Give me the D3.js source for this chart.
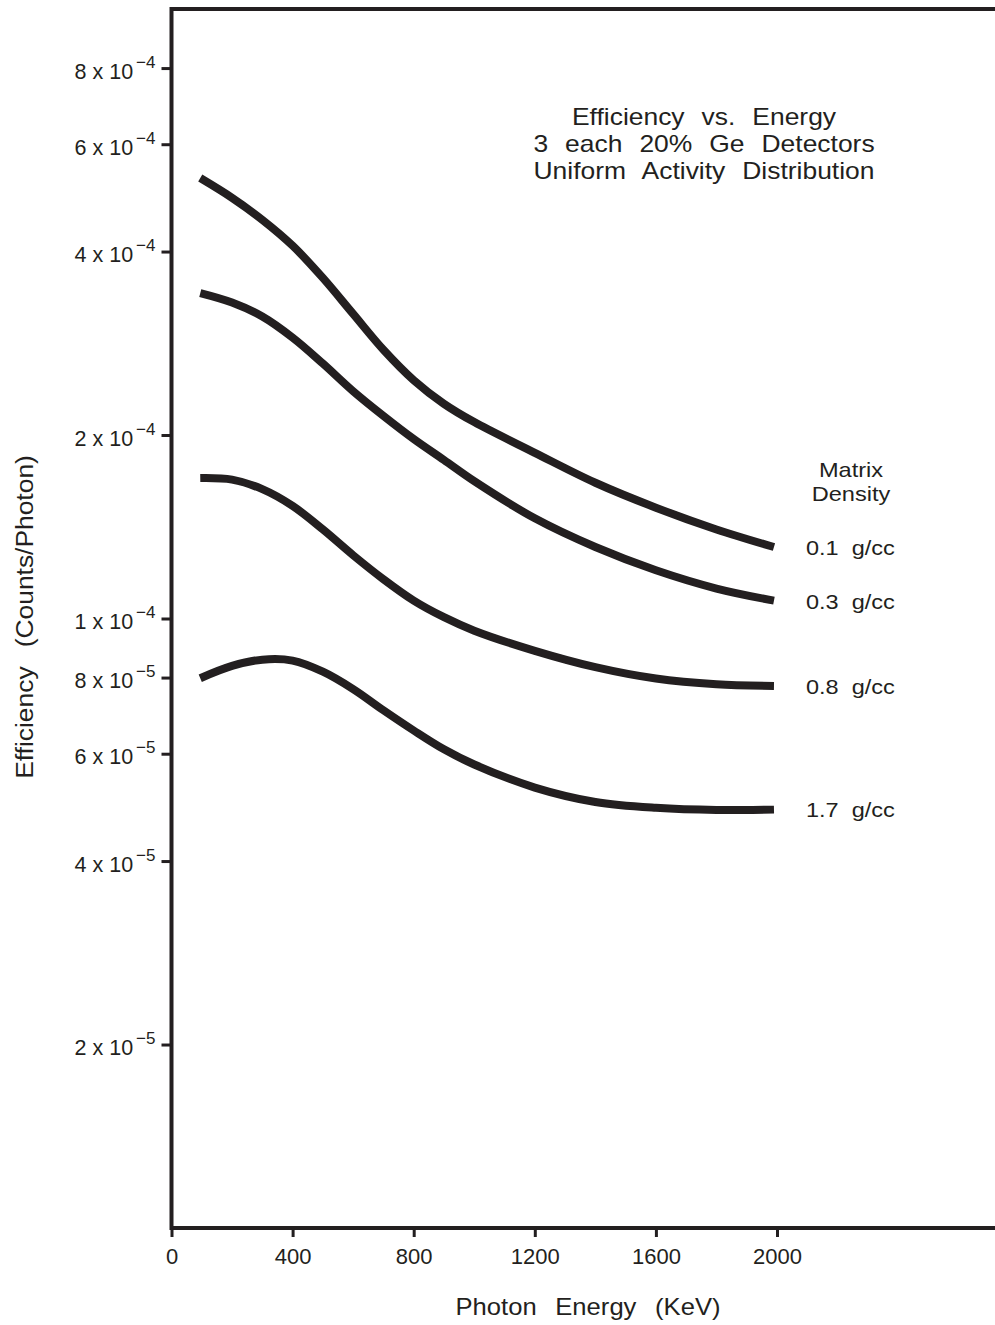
<!DOCTYPE html>
<html>
<head>
<meta charset="utf-8">
<script src="https://cdn.jsdelivr.net/npm/d3@7"></script>
<style>
  html, body { margin: 0; padding: 0; background: #fff; }
  svg { display: block; }
  text { font-family: "Liberation Sans", Arial, Helvetica, sans-serif; fill: #231f20; white-space: pre; }
</style>
</head>
<body>
<svg id="chart" width="995" height="1325"></svg>
<script>
// photon energy (keV) where the curves were read
const energies = [95, 200, 300, 400, 500, 600, 700, 800, 900, 1000, 1200, 1400, 1600, 1800, 1990];

// efficiency (counts/photon), one array per matrix density
const eff01 = [5.28e-4, 4.90e-4, 4.51e-4, 4.09e-4, 3.62e-4, 3.16e-4, 2.76e-4, 2.46e-4, 2.25e-4, 2.10e-4, 1.87e-4, 1.67e-4, 1.52e-4, 1.40e-4, 1.31e-4];
const eff03 = [3.42e-4, 3.30e-4, 3.13e-4, 2.89e-4, 2.62e-4, 2.36e-4, 2.15e-4, 1.97e-4, 1.82e-4, 1.68e-4, 1.46e-4, 1.31e-4, 1.20e-4, 1.12e-4, 1.07e-4];
const eff08 = [1.70e-4, 1.69e-4, 1.63e-4, 1.53e-4, 1.40e-4, 1.27e-4, 1.16e-4, 1.07e-4, 1.005e-4, 9.55e-5, 8.85e-5, 8.32e-5, 7.97e-5, 7.80e-5, 7.75e-5];
const eff17 = [7.98e-5, 8.36e-5, 8.56e-5, 8.53e-5, 8.18e-5, 7.66e-5, 7.07e-5, 6.55e-5, 6.10e-5, 5.76e-5, 5.28e-5, 5.00e-5, 4.89e-5, 4.85e-5, 4.86e-5];

const densityLabels = ['0.1  g/cc', '0.3  g/cc', '0.8  g/cc', '1.7  g/cc'];
const legendTitle = ['Matrix', 'Density'];

const xTicks = [0, 400, 800, 1200, 1600, 2000];
const yTicks = [2e-5, 4e-5, 6e-5, 8e-5, 1e-4, 2e-4, 4e-4, 6e-4, 8e-4];

const titleLines = ['Efficiency  vs.  Energy', '3  each  20%  Ge  Detectors', 'Uniform  Activity  Distribution'];

const ink = '#231f20';
const width = 995;

const svg = d3.select('#chart');

const x = d3.scaleLinear().domain([0, 2000]).range([171.5, 777]);
const y = d3.scaleLog().domain([1e-5, 1e-3]).range([1228, 9]);

const plotLeft = x(0), plotTop = y(1e-3), plotBottom = y(1e-5);

// the lettering in the original is a little wider than Arial, so stretch it
function wideText(parent, tx, ty, size, sx, anchor, str, spacing) {
  return parent.append('text')
    .attr('transform', `translate(${tx},${ty}) scale(${sx},1)`)
    .attr('text-anchor', anchor)
    .attr('font-size', size)
    .attr('word-spacing', spacing || 0)
    .text(str);
}

// frame: left axis, top border, bottom axis
svg.append('path')
  .attr('d', `M${width},${plotTop}H${plotLeft}V${plotBottom}H${width}`)
  .attr('fill', 'none')
  .attr('stroke', ink)
  .attr('stroke-width', 4);

// x axis ticks
const xAxis = svg.append('g')
  .attr('transform', 'translate(0,' + plotBottom + ')')
  .call(d3.axisBottom(x).tickValues(xTicks).tickSize(9).tickPadding(11).tickFormat(d3.format('d')));
xAxis.select('.domain').remove();
xAxis.selectAll('line').attr('stroke', ink).attr('stroke-width', 3);
xAxis.selectAll('text')
  .attr('font-size', 22)
  .attr('font-family', '"Liberation Sans", Arial, sans-serif')
  .attr('fill', ink);

// y axis ticks, labels drawn with superscript exponents
const yAxis = svg.append('g')
  .attr('transform', 'translate(' + plotLeft + ',0)')
  .call(d3.axisLeft(y).tickValues(yTicks).tickSize(10).tickFormat(''));
yAxis.select('.domain').remove();
yAxis.selectAll('line').attr('stroke', ink).attr('stroke-width', 3);

yAxis.selectAll('.tick').each(function(d) {
  const exp = Math.floor(Math.log10(d) + 1e-9);
  const mant = Math.round(d / Math.pow(10, exp));
  const t = d3.select(this).append('text')
    .attr('x', -16)
    .attr('y', 0)
    .attr('text-anchor', 'end')
    .attr('font-size', 21.5)
    .attr('font-family', '"Liberation Sans", Arial, sans-serif')
    .attr('fill', ink);
  t.append('tspan').attr('dy', 10).text(mant + ' x 10');
  t.append('tspan').attr('dy', -11).attr('dx', 3).attr('font-size', 17).text('\u2212' + Math.abs(exp));
});

// curves
const series = [eff01, eff03, eff08, eff17];
const line = d3.line()
  .x((d, i) => x(energies[i]))
  .y(d => y(d))
  .curve(d3.curveCatmullRom.alpha(0.5));

svg.append('g').selectAll('path')
  .data(series).enter().append('path')
  .attr('d', d => line(d))
  .attr('fill', 'none')
  .attr('stroke', ink)
  .attr('stroke-width', 8);

// density labels at the curve ends
const labels = svg.append('g');
series.forEach((s, i) => {
  wideText(labels, 806, y(s[s.length - 1]) + 8, 21, 1.12, 'start', densityLabels[i]);
});
legendTitle.forEach((s, i) => {
  wideText(labels, 851, 477 + i * 23.5, 20.5, 1.15, 'middle', s);
});

// title block
const title = svg.append('g');
titleLines.forEach((s, i) => {
  wideText(title, 704, 125 + i * 27, 23, 1.15, 'middle', s, 1);
});

// axis titles
wideText(svg, 588, 1315, 23.5, 1.09, 'middle', 'Photon  Energy  (KeV)', 2);

svg.append('text')
  .attr('transform', 'translate(33,617) rotate(-90) scale(1.1,1)')
  .attr('text-anchor', 'middle')
  .attr('font-size', 24)
  .attr('word-spacing', 2)
  .text('Efficiency  (Counts/Photon)');
</script>
</body>
</html>
